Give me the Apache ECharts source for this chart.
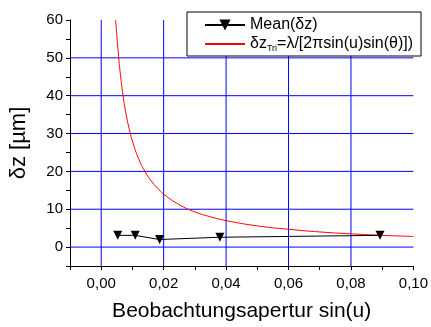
<!DOCTYPE html>
<html><head><meta charset="utf-8">
<script src="https://cdn.jsdelivr.net/npm/echarts@6/dist/echarts.min.js"></script>
<style>html,body{margin:0;padding:0;background:#fff}#c{width:431px;height:327px}</style>
</head><body><div id="c"></div>
<script>
// Data
const meanX = [0.0053, 0.0109, 0.0187, 0.038, 0.0893];
const meanY = [3.1, 3.1, 2.0, 2.6, 3.1];
const triX = [0.0046, 0.005, 0.0055, 0.006, 0.007, 0.008, 0.009, 0.010, 0.012, 0.014, 0.016, 0.018, 0.020, 0.025, 0.030, 0.035, 0.040, 0.050, 0.060, 0.070, 0.080, 0.090, 0.100];
const triY = [60, 56, 51, 46.7, 40, 35, 31.1, 28, 23.3, 20, 17.5, 15.6, 14, 11.2, 9.3, 8, 7, 5.6, 4.7, 4, 3.5, 3.1, 2.8];
const xGrid = [0, 0.02, 0.04, 0.06, 0.08];
const yGrid = [0, 10, 20, 30, 40, 50];
const xRange = [-0.01, 0.10];
const yRange = [-5, 60];
const meanName = 'Mean(δz)';
const triName = 'δz_Tri=λ/[2πsin(u)sin(θ)])';

const FONT = '"Liberation Sans", Arial, sans-serif';
const GRID_BLUE = '#0000ff';
const chart = echarts.init(document.getElementById('c'), null, {renderer: 'canvas'});
const fmtX = v => { const k = Math.round(v * 100); return (k >= 0 && k % 2 === 0) ? (k / 100).toFixed(2).replace('.', ',') : ''; };
const fmtY = v => (Math.round(v) % 10 === 0 && v >= 0) ? String(Math.round(v)) : '';

const gridSeries = xGrid.map(v => [[v, yRange[0]], [v, yRange[1]]])
  .concat(yGrid.map(v => [[xRange[0], v], [xRange[1], v]]))
  .map((d, i) => ({
    name: 'grid' + i, type: 'line', data: d, silent: true, z: 1,
    symbol: 'none', showSymbol: false,
    itemStyle: {color: GRID_BLUE},
    lineStyle: {color: GRID_BLUE, width: 1, type: 'solid'},
    emphasis: {disabled: true}
  }));

chart.setOption({
  animation: false,
  grid: {left: 69, right: 16.5, top: 20, bottom: 57},
  legend: {
    orient: 'vertical', left: 187, top: 12,
    padding: [5, 8, 3, 17], itemGap: 3,
    itemWidth: 40, itemHeight: 14,
    borderColor: '#000', borderWidth: 1, backgroundColor: '#fff',
    textStyle: {fontFamily: FONT, fontSize: 16, color: '#000',
      rich: {a: {fontFamily: FONT, fontSize: 16, color: '#000'},
             s: {fontFamily: FONT, fontSize: 9, color: '#000', padding: [9, 0, 0, 0]}}},
    formatter: n => n === meanName ? n : '{a|δz}{s|Tri}{a|=λ/[2πsin(u)sin(θ)])}',
    data: [{name: meanName}, {name: triName, itemStyle: {opacity: 0}}]
  },
  xAxis: {
    type: 'value', min: xRange[0], max: xRange[1], interval: 0.01,
    name: 'Beobachtungsapertur sin(u)', nameLocation: 'middle', nameGap: 35,
    nameTextStyle: {fontFamily: FONT, fontSize: 21, color: '#000'},
    axisLine: {onZero: false, lineStyle: {color: '#000', width: 1}},
    axisTick: {length: 4, lineStyle: {color: '#000'}},
    axisLabel: {formatter: fmtX, fontFamily: FONT, fontSize: 15, color: '#000', margin: 10, showMaxLabel: true, showMinLabel: true, hideOverlap: false},
    splitLine: {show: false}
  },
  yAxis: {
    type: 'value', min: yRange[0], max: yRange[1], interval: 5,
    name: 'δz [µm]', nameLocation: 'middle', nameGap: 40,
    nameTextStyle: {fontFamily: FONT, fontSize: 22, color: '#000'},
    axisLine: {show: true, onZero: false, lineStyle: {color: '#000', width: 1}},
    axisTick: {show: true, length: 4, lineStyle: {color: '#000'}},
    axisLabel: {formatter: fmtY, fontFamily: FONT, fontSize: 15, color: '#000', margin: 7, showMaxLabel: true},
    splitLine: {show: false}
  },
  series: gridSeries.concat([{
    name: meanName, type: 'line',
    data: meanX.map((x, i) => [x, meanY[i]]),
    symbol: 'triangle', symbolRotate: 180, symbolSize: 9,
    itemStyle: {color: '#000'}, lineStyle: {color: '#000', width: 1},
    z: 5
  }, {
    name: triName, type: 'line',
    data: triX.map((x, i) => [x, triY[i]]),
    smooth: true, showSymbol: false, symbol: 'none',
    itemStyle: {color: '#ff0000'}, lineStyle: {color: '#ff0000', width: 1},
    z: 4
  }])
});
</script></body></html>
